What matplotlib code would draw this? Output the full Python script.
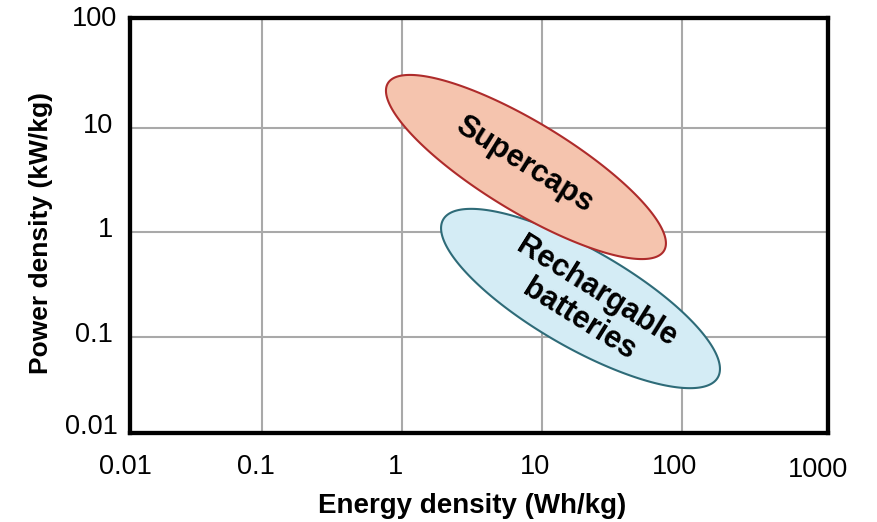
import numpy as np
import matplotlib
matplotlib.use("Agg")
import matplotlib.pyplot as plt
from matplotlib.transforms import ScaledTranslation

plt.rcParams['font.family'] = ['Liberation Sans', 'DejaVu Sans']

# ---- data ----
x_limits = [0.01117, 1122]        # Wh/kg, frame edges as drawn in the original
y_limits = [0.01219, 111.1]       # kW/kg
x_ticks = [0.01, 0.1, 1, 10, 100, 1000]
x_tick_labels = ['0.01', '0.1', '1', '10', '100', '1000']
y_ticks = [0.01, 0.1, 1, 10, 100]
y_tick_labels = ['0.01', '0.1', '1', '10', '100']

region_names = ['Supercaps', 'Rechargable\nbatteries']
tip_a_energy = [0.790, 1.966]     # Wh/kg, upper-left end of region
tip_a_power = [26.5, 1.327]       # kW/kg
tip_b_energy = [74.8, 181.6]      # Wh/kg, lower-right end of region
tip_b_power = [0.668, 0.04126]    # kW/kg
minor_ratio = [0.277, 0.309]
label_energy = [7.45, 21.4]
label_power = [4.40, 0.199]
face_colors = ['#F5C4AE', '#D4ECF5']
edge_colors = ['#AE2B2B', '#2E6B78']

# ---- figure ----
fig = plt.figure(figsize=(8.77, 5.22), dpi=100)
ax = fig.add_axes([129.5 / 877, 1 - 433 / 522, (828.3 - 129.5) / 877, (433 - 18) / 522])
ax.set_xscale('log')
ax.set_yscale('log')
ax.set_xlim(*x_limits)
ax.set_ylim(*y_limits)
ax.minorticks_off()

tick_fs = 19.5
px = 1 / 100


def shift(dx, dy):
    return ScaledTranslation(dx * px, dy * px, fig.dpi_scale_trans)


# interior decades get grid lines + normal tick labels; the end decades sit on the frame
ax.set_xticks(x_ticks[1:-1])
ax.set_xticklabels(x_tick_labels[1:-1], fontsize=tick_fs)
ax.set_yticks(y_ticks[1:-1])
ax.set_yticklabels(y_tick_labels[1:-1], fontsize=tick_fs)
ax.tick_params(length=0)
ax.tick_params(axis='x', pad=15)
ax.tick_params(axis='y', pad=12)
for lab in ax.get_xticklabels():
    lab.set_transform(lab.get_transform() + shift(-7, 0))
for lab in ax.get_yticklabels():
    lab.set_transform(lab.get_transform() + shift(0, 5))

# end labels at the frame edges
ax.text(0, 0, x_tick_labels[0], transform=ax.transAxes + shift(-4, -21),
        ha='center', va='top', fontsize=tick_fs, clip_on=False)
ax.text(1, 0, x_tick_labels[-1], transform=ax.transAxes + shift(-10, -24),
        ha='center', va='top', fontsize=tick_fs, clip_on=False)
ax.text(0, 0, y_tick_labels[0], transform=ax.transAxes + shift(-12, 6),
        ha='right', va='center', fontsize=tick_fs, clip_on=False)
ax.text(0, 1, y_tick_labels[-1], transform=ax.transAxes + shift(-12, -1),
        ha='right', va='center', fontsize=tick_fs, clip_on=False)

ax.grid(True, which='major', color='#A9A9A9', lw=1.5)
ax.set_axisbelow(True)
for s in ax.spines.values():
    s.set_linewidth(3.1)
    s.set_color('black')
    s.set_zorder(5)


def ellipse_points(e1, p1, e2, p2, ratio, n=300):
    d1 = ax.transData.transform((e1, p1))
    d2 = ax.transData.transform((e2, p2))
    c = (d1 + d2) / 2
    v = (d2 - d1) / 2
    a = np.hypot(*v)
    u = v / a
    perp = np.array([-u[1], u[0]]) * a * ratio
    t = np.linspace(0, 2 * np.pi, n)
    pts = c + np.outer(np.cos(t), v) + np.outer(np.sin(t), perp)
    return ax.transData.inverted().transform(pts)


# batteries first, supercaps on top
for i in [1, 0]:
    pts = ellipse_points(tip_a_energy[i], tip_a_power[i], tip_b_energy[i], tip_b_power[i], minor_ratio[i])
    ax.fill(pts[:, 0], pts[:, 1], facecolor=face_colors[i], edgecolor=edge_colors[i], lw=1.5, zorder=2 + (1 - i))

for i in range(2):
    ax.text(label_energy[i], label_power[i], region_names[i], fontsize=22, fontweight='bold',
            rotation=-32, rotation_mode='anchor', ha='center', va='center',
            multialignment='center', linespacing=1.1, zorder=4)

fig.text(472 / 877, 1 - 506 / 522, 'Energy density (Wh/kg)', fontsize=20, fontweight='bold',
         ha='center', va='center')
fig.text(41 / 877, 1 - 233 / 522, 'Power density (kW/kg)', fontsize=19, fontweight='bold',
         ha='center', va='center', rotation=90)

fig.savefig('out.png', dpi=100)
